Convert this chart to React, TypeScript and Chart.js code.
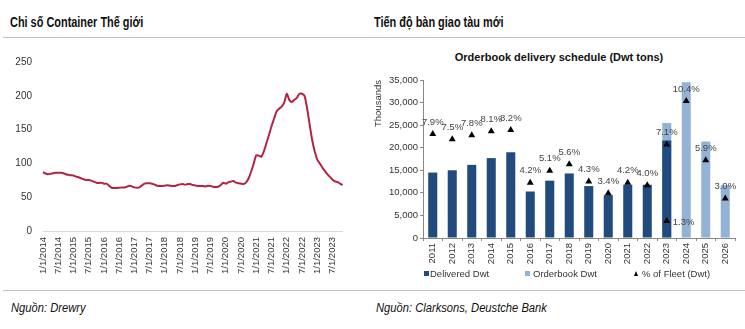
import React, { useEffect, useRef } from 'react';
import { Chart, registerables } from 'chart.js';

Chart.register(...registerables);

// ---------- Left chart: world container index (monthly, from 1/2014) ----------
const START_YEAR = 2014;
const indexValues: number[] = [
  87, 85, 84, 84.5, 85.5, 86, 86, 86, 85.5, 84, 83, 82.5,
  82, 80.5, 79.5, 78, 76.5, 75.5, 75.5, 74.5, 73, 71.5, 71, 71.5,
  70, 70, 67, 64, 63.5, 63.5, 64, 64.5, 64.5, 65.5, 67, 66,
  64.5, 64, 64.5, 67.5, 70, 70.5, 70.5, 70, 68.5, 67, 66.5, 66.5,
  67, 67.5, 67, 66.5, 66.5, 68, 69, 69.5, 68.5, 69.5, 69.5, 68,
  67.5, 66.5, 66.5, 66.5, 66, 67, 66.5, 65.5, 65, 65.5, 68, 71.5,
  70, 72, 73, 74, 71.5, 70.5, 70, 69.5, 72, 78, 88, 100,
  112, 111.5, 110, 118, 130, 142, 155, 166, 177, 181, 184, 190,
  203, 194, 191, 194, 197, 203, 203, 200, 182, 158, 135, 118,
  106, 100, 94, 89, 84, 80, 76, 73.5, 72.5, 70, 68,
];
const monthLabels: string[] = indexValues.map(
  (_, i) => `${(i % 12) + 1}/1/${START_YEAR + Math.floor(i / 12)}`
);
const leftYTicks = { min: 0, max: 250, step: 50 };

// ---------- Right chart: orderbook delivery schedule ----------
const years = ['2011', '2012', '2013', '2014', '2015', '2016', '2017', '2018', '2019', '2020', '2021', '2022', '2023', '2024', '2025', '2026'];
const deliveredDwt: (number | null)[] = [14500, 15000, 16200, 17700, 19000, 10300, 12700, 14300, 11500, 9500, 11800, 11800, 21600, null, null, null];
const orderbookDwt: (number | null)[] = [null, null, null, null, null, null, null, null, null, null, null, null, 25500, 34500, 21400, 11700];
const fleetPct: (number | null)[] = [7.9, 7.5, 7.8, 8.1, 8.2, 4.2, 5.1, 5.6, 4.3, 3.4, 4.2, 4.0, 7.1, 10.4, 5.9, 3.0];
const fleetPctDelivered2023: (number | null)[] = [null, null, null, null, null, null, null, null, null, null, null, null, 1.3, null, null, null];

const AXIS_FONT = "'Liberation Sans', Arial, sans-serif";
const DARK = '#214b7c';
const LIGHT = '#93b3d6';

const pctLabelPlugin = {
  id: 'pctLabels',
  afterDatasetsDraw(chart: any) {
    const ctx = chart.ctx;
    ctx.save();
    ctx.font = `9.5px ${AXIS_FONT}`;
    ctx.fillStyle = '#444';
    chart.data.datasets.forEach((ds: any, di: number) => {
      if (!ds.labelMode) return;
      const meta = chart.getDatasetMeta(di);
      meta.data.forEach((pt: any, i: number) => {
        const v = ds.data[i];
        if (v == null) return;
        const text = v.toFixed(1) + '%';
        if (ds.labelMode === 'above') {
          ctx.textAlign = 'center';
          ctx.textBaseline = 'middle';
          ctx.fillText(text, pt.x, pt.y - 12);
        } else {
          ctx.textAlign = 'left';
          ctx.textBaseline = 'middle';
          ctx.fillText(text, pt.x + 6, pt.y + 1);
        }
      });
    });
    ctx.restore();
  },
};

export default function App() {
  const leftRef = useRef<HTMLCanvasElement | null>(null);
  const rightRef = useRef<HTMLCanvasElement | null>(null);

  useEffect(() => {
    const left = new Chart(leftRef.current as HTMLCanvasElement, {
      type: 'line',
      data: {
        labels: monthLabels,
        datasets: [
          {
            data: indexValues,
            borderColor: '#b52340',
            borderWidth: 2,
            pointRadius: 0,
            tension: 0.25,
            fill: false,
          },
        ],
      },
      options: {
        animation: false,
        responsive: false,
        maintainAspectRatio: false,
        layout: { padding: { left: 0, right: 13, top: 62, bottom: 14 } },
        plugins: { legend: { display: false }, tooltip: { enabled: false } },
        scales: {
          x: {
            grid: { display: false, drawTicks: false },
            border: { display: true, color: '#d9d9d9', width: 1 },
            ticks: {
              autoSkip: false,
              maxRotation: 90,
              minRotation: 90,
              padding: 6,
              color: '#333',
              font: { family: AXIS_FONT, size: 9.5 },
              callback: (_v: any, i: number) => (i % 6 === 0 ? monthLabels[i] : ''),
            },
            afterFit: (s: any) => {
              s.height = 45;
            },
          },
          y: {
            min: leftYTicks.min,
            max: leftYTicks.max,
            ticks: {
              stepSize: leftYTicks.step,
              padding: 11,
              color: '#333',
              font: { family: AXIS_FONT, size: 10 },
            },
            grid: { display: false, drawTicks: false },
            border: { display: false },
            afterFit: (s: any) => {
              s.width = 43;
            },
          },
        },
      },
    } as any);

    const right = new Chart(rightRef.current as HTMLCanvasElement, {
      type: 'bar',
      data: {
        labels: years,
        datasets: [
          {
            type: 'line',
            label: '% of Fleet (Dwt)',
            data: fleetPct,
            yAxisID: 'y1',
            showLine: false,
            pointStyle: 'triangle',
            pointRadius: 4,
            backgroundColor: '#000',
            borderColor: '#000',
            borderWidth: 0,
            order: 0,
            labelMode: 'above',
          },
          {
            type: 'line',
            label: '% of Fleet (Dwt) delivered',
            data: fleetPctDelivered2023,
            yAxisID: 'y1',
            showLine: false,
            pointStyle: 'triangle',
            pointRadius: 4,
            backgroundColor: '#000',
            borderColor: '#000',
            borderWidth: 0,
            order: 0,
            labelMode: 'right',
          },
          {
            label: 'Delivered Dwt',
            data: deliveredDwt,
            backgroundColor: DARK,
            order: 1,
          },
          {
            label: 'Orderbook Dwt',
            data: orderbookDwt,
            backgroundColor: LIGHT,
            order: 2,
          },
        ],
      },
      options: {
        animation: false,
        responsive: false,
        maintainAspectRatio: false,
        layout: { padding: { left: 8, right: 10, top: 80, bottom: 26 } },
        datasets: { bar: { grouped: false, barPercentage: 0.58, categoryPercentage: 0.8 } },
        plugins: { legend: { display: false }, tooltip: { enabled: false } },
        scales: {
          x: {
            grid: { display: true, drawOnChartArea: false, drawTicks: true, tickLength: 3, color: '#888' },
            border: { display: true, color: '#888' },
            ticks: {
              autoSkip: false,
              maxRotation: 90,
              minRotation: 90,
              padding: 2,
              color: '#333',
              font: { family: AXIS_FONT, size: 9.5 },
            },
            afterFit: (s: any) => {
              s.height = 26;
            },
          },
          y: {
            min: 0,
            max: 35000,
            ticks: {
              stepSize: 5000,
              padding: 2,
              color: '#333',
              font: { family: AXIS_FONT, size: 9.5 },
              callback: (v: any) => Number(v).toLocaleString('en-US'),
            },
            title: {
              display: true,
              text: 'Thousands',
              align: 'end',
              color: '#333',
              font: { family: AXIS_FONT, size: 9.5 },
              padding: 0,
            },
            grid: { display: true, drawOnChartArea: false, drawTicks: true, tickLength: 3, color: '#888' },
            border: { display: true, color: '#888' },
            afterFit: (s: any) => {
              s.width = 50;
            },
          },
          y1: {
            display: false,
            min: 0,
            max: 12,
          },
        },
      },
      plugins: [pctLabelPlugin],
    } as any);

    return () => {
      left.destroy();
      right.destroy();
    };
  }, []);

  const abs = (o: React.CSSProperties): React.CSSProperties => ({ position: 'absolute', ...o });
  const titleStyle: React.CSSProperties = {
    fontFamily: AXIS_FONT,
    fontWeight: 'bold',
    fontSize: 14,
    lineHeight: '16px',
    color: '#111',
    whiteSpace: 'nowrap',
    transform: 'scaleX(0.78)',
    transformOrigin: 'left center',
  };
  const sourceStyle: React.CSSProperties = {
    fontFamily: AXIS_FONT,
    fontStyle: 'italic',
    fontSize: 13,
    lineHeight: '16px',
    color: '#111',
    whiteSpace: 'nowrap',
    transform: 'scaleX(0.86)',
    transformOrigin: 'left center',
  };
  const legendText: React.CSSProperties = {
    fontFamily: AXIS_FONT,
    fontSize: 9.5,
    lineHeight: '12px',
    color: '#333',
    whiteSpace: 'nowrap',
  };

  return (
    <div style={abs({ left: 0, top: 0, width: 745, height: 329, background: '#fff', overflow: 'hidden' })}>
      <div style={abs({ left: 10, top: 14, ...titleStyle })}>Chi số Container Thế giới</div>
      <div style={abs({ left: 374, top: 14, ...titleStyle })}>Tiến độ bàn giao tàu mới</div>
      <div style={abs({ left: 3, top: 37, width: 742, height: 1, background: '#c4c4c4' })} />
      <div style={abs({ left: 3, top: 290, width: 742, height: 1, background: '#c4c4c4' })} />
      <div style={abs({ left: 11, top: 300, ...sourceStyle })}>Nguồn: Drewry</div>
      <div style={abs({ left: 376, top: 300, ...sourceStyle })}>Nguồn: Clarksons, Deustche Bank</div>

      <div
        style={abs({
          left: 449,
          top: 50,
          width: 220,
          textAlign: 'center',
          fontFamily: AXIS_FONT,
          fontWeight: 'bold',
          fontSize: 11,
          lineHeight: '14px',
          color: '#111',
          whiteSpace: 'nowrap',
        })}
      >
        Orderbook delivery schedule (Dwt tons)
      </div>

      <canvas ref={leftRef} width={360} height={290} style={abs({ left: 0, top: 0, width: 360, height: 290 })} />
      <canvas ref={rightRef} width={380} height={290} style={abs({ left: 365, top: 0, width: 380, height: 290 })} />

      <div style={abs({ left: 424, top: 271, width: 5, height: 5, background: DARK })} />
      <div style={abs({ left: 430, top: 268, ...legendText })}>Delivered Dwt</div>
      <div style={abs({ left: 525, top: 271, width: 5, height: 5, background: LIGHT })} />
      <div style={abs({ left: 533, top: 268, ...legendText })}>Orderbook Dwt</div>
      <div
        style={abs({
          left: 634,
          top: 271,
          width: 0,
          height: 0,
          borderLeft: '2.5px solid transparent',
          borderRight: '2.5px solid transparent',
          borderBottom: '5px solid #000',
        })}
      />
      <div style={abs({ left: 642, top: 268, ...legendText })}>% of Fleet (Dwt)</div>
    </div>
  );
}
